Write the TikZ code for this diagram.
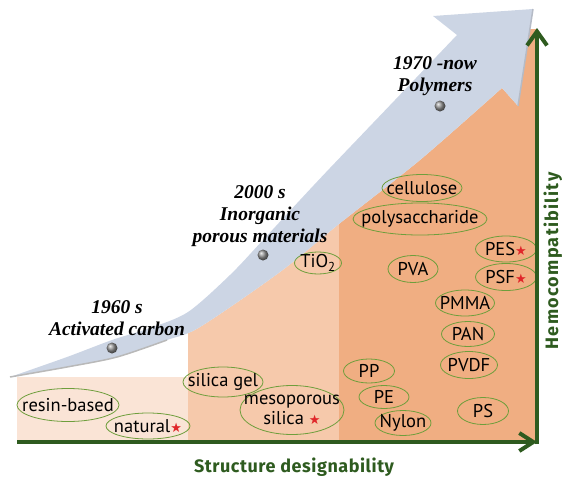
\documentclass[tikz,border=0pt]{standalone}
\usepackage{fontspec}
\setmainfont{Liberation Serif}
\setsansfont{PT Sans}
\newfontfamily\axisfont{Fira Sans}[LetterSpace=3]
\newfontfamily\axisfontwide{Fira Sans}[LetterSpace=7]
\newfontfamily\starfont{DejaVu Sans}
\usetikzlibrary{shapes.geometric,arrows.meta}
\definecolor{axisgreen}{HTML}{2E5B1F}
\definecolor{ringgreen}{HTML}{6E9E3C}
\definecolor{zoneA}{HTML}{FAE4D6}
\definecolor{zoneB}{HTML}{F6C9AB}
\definecolor{zoneC}{HTML}{F0AE82}
\definecolor{arrowblue}{HTML}{CCD5E4}
\definecolor{starred}{HTML}{E0262A}
\newcommand{\rstar}{{\starfont\fontsize{13}{13}\selectfont\textcolor{starred}{★}}}
\tikzset{
  mat/.style={ellipse,draw=ringgreen,line width=0.8pt,inner xsep=-14pt,inner ysep=-4pt,
    font=\sffamily\fontsize{18.5}{20}\selectfont,minimum width=52,minimum height=26},
  era/.style={font=\bfseries\itshape\fontsize{19.5}{22}\selectfont,align=center},
  dot/.style={circle,inner sep=0pt,minimum size=11,ball color=gray!85},
  axis/.style={draw=axisgreen,line width=4pt},
  axislabel/.style={font=#1\bfseries\fontsize{18}{18}\selectfont,text=axisgreen,anchor=base}
}
\begin{document}
\begin{tikzpicture}[x=1pt,y=-1pt]
\useasboundingbox (0,0) rectangle (563,477);
% zones under the arrow
\begin{scope}
\clip plot[smooth] coordinates {(10,377) (67,367) (117,357) (167,340) (200,327) (280,272) (339,224) (420,160) (502,88)}
  -- (518,106) -- (530,29) -- (545,29) -- (545,450) -- (10,450) -- cycle;
\fill[zoneA] (17,377) rectangle (188,442);
\fill[zoneB] (188,0) rectangle (339,442);
\fill[zoneC] (339,0) rectangle (537,442);
\end{scope}
% the arrow
\fill[arrowblue] plot[smooth] coordinates {(10,377) (67,357) (112,340) (150,328) (188,312) (230,275) (263,240) (300,200) (330,168) (395,100) (457,35)}
  -- (433,16) -- (533,9) -- (518,106) -- (502,88)
  -- plot[smooth] coordinates {(502,88) (420,160) (339,224) (280,272) (200,327) (167,340) (117,357) (67,367) (10,377)} -- cycle;
\draw[gray!55,line width=1.5pt] plot[smooth] coordinates {(10,377) (67,367) (117,357) (167,340)};
\draw[arrowblue!70!gray,line width=1.5pt] (533,9) -- (518,106);
% eras
\node[era] (y1960) at (117,318) {1960 s\\Activated carbon};
\node[era] (y2000) at (260,216) {2000 s\\Inorganic\\porous materials};
\node[era] (y1970) at (435,76) {1970 -now\\Polymers};
\node[dot] (d1960) at (112,348) {};
\node[dot] (d2000) at (263,255) {};
\node[dot] (d1970) at (440,106) {};
% materials
\node[mat,minimum width=102,minimum height=33] (resin) at (68,405) {resin-based};
\node[mat,minimum width=84] (natural) at (148,426) {natural\rstar};
\node[mat,minimum width=80,minimum height=30] (gel) at (223,382) {silica gel};
\node[mat,minimum width=104,minimum height=49,align=center] (meso) at (292,410) {mesoporous\\silica \rstar};
\node[mat,minimum width=47,minimum height=22] (tio) at (318,263) {TiO\textsubscript{2}};
\node[mat,minimum width=80,minimum height=27] (cell) at (422,188) {cellulose};
\node[mat,minimum width=134,minimum height=32] (poly) at (420,219) {polysaccharide};
\node[mat,minimum width=61] (pes) at (506,249) {PES\rstar};
\node[mat,minimum width=61,minimum height=27] (psf) at (506,277) {PSF\rstar};
\node[mat,minimum width=50,minimum height=27] (pva) at (413,269) {PVA};
\node[mat,minimum width=59] (pmma) at (465,303) {PMMA};
\node[mat,minimum width=53,minimum height=25] (pan) at (468,334) {PAN};
\node[mat,minimum width=57,minimum height=27] (pvdf) at (469,365) {PVDF};
\node[mat,minimum width=51,minimum height=24] (pp) at (369,371) {PP};
\node[mat,minimum width=50,minimum height=23] (pe) at (384,397) {PE};
\node[mat,minimum width=56,minimum height=25] (nylon) at (403,423) {Nylon};
\node[mat,minimum width=51,minimum height=27] (ps) at (483,411) {PS};
% axes
\coordinate (O) at (17,442);
\coordinate (corner) at (537,444);
\coordinate (xEnd) at (537,442);
\coordinate (yEnd) at (537,28);
\draw[axis,-{Straight Barb[length=14pt,width=18pt]}] (O) -- (xEnd);
\draw[axis,-{Straight Barb[length=14pt,width=20pt]}] (corner) -- (yEnd);
\node[axislabel=\axisfont] (xlabel) at (294,472) {Structure designability};
\node[axislabel=\axisfontwide,rotate=90] (ylabel) at (558,261) {Hemocompatibility};
\end{tikzpicture}
\end{document}
